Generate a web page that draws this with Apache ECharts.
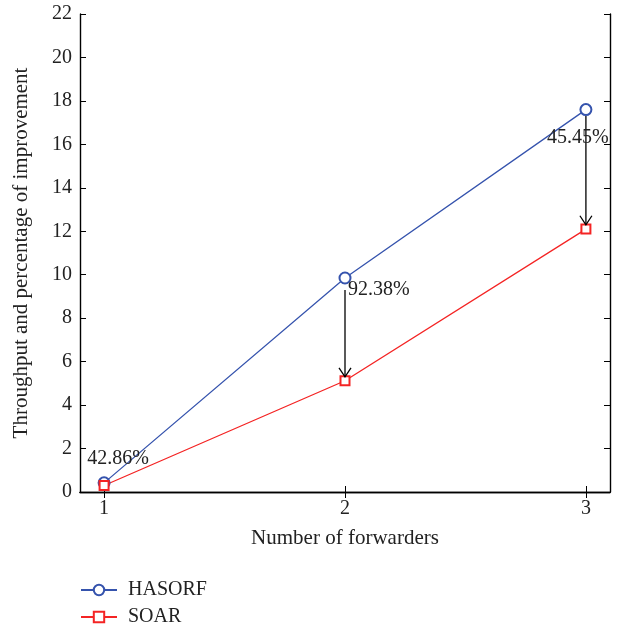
<!DOCTYPE html>
<html><head><meta charset="utf-8">
<script src="https://cdn.jsdelivr.net/npm/echarts@6/dist/echarts.min.js"></script>
<style>html,body{margin:0;padding:0;background:#fff}#c{width:618px;height:629px}</style>
</head><body><div id="c"></div>
<script>
var forwarders = [1, 2, 3];
var hasorf = [0.42, 9.85, 17.6];
var soar = [0.3, 5.12, 12.1];
var yTicks = [0, 2, 4, 6, 8, 10, 12, 14, 16, 18, 20, 22];
// arrows: [x, fromY, toY]
var arrows = [[2, 9.3, 5.3], [3, 17.3, 12.3]];
// annotations: [x, y, text]
var annotX = [0.93, 2.012, 2.838];
var annotY = [1.52, 9.3, 16.3];
var annotText = ['42.86%', '92.38%', '45.45%'];

var font = 'Liberation Serif';
var blue = '#3553ad', red = '#f42424';
var chart = echarts.init(document.getElementById('c'));
var axisLine = {lineStyle: {color: '#000', width: 1.4}};
chart.setOption({
  animation: false,
  textStyle: {fontFamily: font},
  grid: {left: 80, right: 8, top: 14, bottom: 137},
  legend: {
    orient: 'vertical', left: 80, top: 580, padding: 0, itemWidth: 36, itemHeight: 13, itemGap: 7,
    textStyle: {fontFamily: font, fontSize: 20, lineHeight: 18, color: '#222', padding: [0, 0, 0, 6]},
    data: ['HASORF', 'SOAR']
  },
  xAxis: [{
    type: 'value', min: 0.9, max: 3.1,
    name: 'Number of forwarders', nameLocation: 'middle', nameGap: 36,
    nameTextStyle: {fontFamily: font, fontSize: 21, color: '#222'},
    axisLine: axisLine, splitLine: {show: false},
    axisTick: {inside: true, length: 6, lineStyle: {color: '#000'}, customValues: forwarders},
    axisLabel: {fontFamily: font, fontSize: 20, color: '#222', margin: 7, customValues: forwarders}
  }, {
    type: 'value', min: 0.9, max: 3.1, position: 'top',
    axisLine: axisLine, splitLine: {show: false},
    axisTick: {inside: true, length: 6, lineStyle: {color: '#000'}, customValues: forwarders},
    axisLabel: {show: false}
  }],
  yAxis: [{
    type: 'value', min: 0, max: 22, interval: 2,
    name: 'Throughput and percentage of improvement', nameLocation: 'middle', nameGap: 48,
    nameTextStyle: {fontFamily: font, fontSize: 21, color: '#222'},
    axisLine: axisLine, splitLine: {show: false},
    axisTick: {inside: true, length: 6, lineStyle: {color: '#000'}},
    axisLabel: {fontFamily: font, fontSize: 20, color: '#222', margin: 8,
      formatter: function (v) { return yTicks.indexOf(v) >= 0 ? String(v) : ''; }}
  }, {
    type: 'value', min: 0, max: 22, interval: 2, position: 'right',
    axisLine: axisLine, splitLine: {show: false},
    axisTick: {inside: true, length: 6, lineStyle: {color: '#000'}},
    axisLabel: {show: false}
  }],
  series: [{
    name: 'HASORF', type: 'line',
    data: forwarders.map(function (x, i) { return [x, hasorf[i]]; }),
    symbol: 'emptyCircle', symbolSize: 11,
    lineStyle: {color: blue, width: 1.3},
    itemStyle: {color: blue, borderColor: blue, borderWidth: 1.3}
  }, {
    name: 'SOAR', type: 'line',
    data: forwarders.map(function (x, i) { return [x, soar[i]]; }),
    symbol: 'emptyRect', symbolSize: 9,
    lineStyle: {color: red, width: 1.3},
    itemStyle: {color: red, borderColor: red, borderWidth: 1.3}
  }, {
    type: 'custom', z: 5,
    data: arrows,
    renderItem: function (params, api) {
      var p1 = api.coord([api.value(0), api.value(1)]);
      var p2 = api.coord([api.value(0), api.value(2)]);
      return {type: 'group', children: [
        {type: 'line', shape: {x1: p1[0], y1: p1[1], x2: p2[0], y2: p2[1]}, style: {stroke: '#000', lineWidth: 1.3}},
        {type: 'polyline', shape: {points: [[p2[0] - 6, p2[1] - 9], [p2[0], p2[1]], [p2[0] + 6, p2[1] - 9]]}, style: {stroke: '#000', fill: null, lineWidth: 1.3}}
      ]};
    }
  }, {
    type: 'custom', z: 6,
    data: annotX.map(function (x, i) { return [x, annotY[i], annotText[i]]; }),
    renderItem: function (params, api) {
      var p = api.coord([api.value(0), api.value(1)]);
      return {type: 'text', x: p[0], y: p[1], style: {
        text: annotText[params.dataIndex], fontFamily: font, fontSize: 20, fill: '#222',
        align: 'left', verticalAlign: 'middle'}};
    }
  }]
});
</script></body></html>
